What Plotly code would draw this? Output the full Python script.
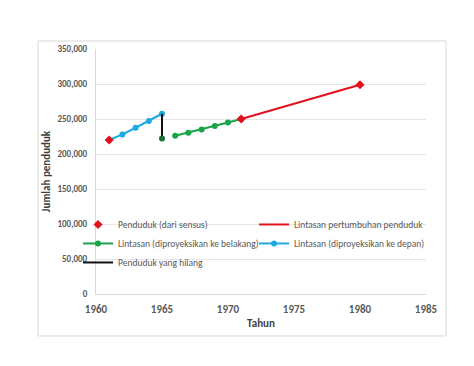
import plotly.graph_objects as go

# Data
census_years = [1961, 1971, 1980]
census_pop = [220000, 250000, 299000]

growth_years = [1971, 1980]
growth_pop = [250000, 299000]

back_years = [1966, 1967, 1968, 1969, 1970, 1971]
back_pop = [226000, 230500, 235000, 240000, 245000, 250000]

fwd_years = [1961, 1962, 1963, 1964, 1965]
fwd_pop = [220000, 228000, 237500, 247000, 257500]

missing_years = [1965, 1965]
missing_pop = [257500, 222000]

y_ticks = [0, 50000, 100000, 150000, 200000, 250000, 300000, 350000]
x_ticks = [1960, 1965, 1970, 1975, 1980, 1985]

FONT = "Carlito, Liberation Sans Narrow, Roboto, sans-serif"
RED = "#E3101E"
GREEN = "#1BA34A"
BLUE = "#1EA9E1"

fig = go.Figure()

fig.add_trace(go.Scatter(x=growth_years, y=growth_pop, mode="lines",
                         line=dict(color=RED, width=2),
                         name="Lintasan pertumbuhan penduduk", legend="legend2", legendrank=1))
fig.add_trace(go.Scatter(x=back_years, y=back_pop, mode="lines+markers",
                         line=dict(color=GREEN, width=2),
                         marker=dict(color=GREEN, size=6),
                         name="Lintasan (diproyeksikan ke belakang)", legend="legend", legendrank=2))
fig.add_trace(go.Scatter(x=fwd_years, y=fwd_pop, mode="lines+markers",
                         line=dict(color=BLUE, width=2),
                         marker=dict(color=BLUE, size=6),
                         name="Lintasan (diproyeksikan ke depan)", legend="legend2", legendrank=2))
fig.add_trace(go.Scatter(x=missing_years, y=missing_pop, mode="lines+markers",
                         line=dict(color="#111111", width=2),
                         marker=dict(color=["rgba(0,0,0,0)", "#1E6B3C"], size=6),
                         name="Penduduk yang hilang", legend="legend", legendrank=3))
fig.add_trace(go.Scatter(x=census_years, y=census_pop, mode="markers",
                         marker=dict(color=RED, size=7, symbol="diamond"),
                         name="Penduduk (dari sensus)", legend="legend", legendrank=1))

legend_common = dict(orientation="v", yanchor="top", xanchor="left", itemwidth=30,
                     bgcolor="rgba(0,0,0,0)", font=dict(size=9.5, color="#595959"),
                     tracegroupgap=0)

fig.update_layout(
    width=474, height=366,
    margin=dict(l=88, r=56, t=41, b=80),
    paper_bgcolor="white", plot_bgcolor="white",
    font=dict(family=FONT, color="#595959", size=10),
    showlegend=True,
    legend=dict(x=-0.0545, y=0.343, **legend_common),
    legend2=dict(x=0.479, y=0.343, **legend_common),
    xaxis=dict(range=[1960, 1985], tickvals=x_ticks, showgrid=False,
               showline=True, linecolor="#D9D9D9", linewidth=1, zeroline=False,
               ticks="", ticklabelstandoff=5,
               tickfont=dict(size=11, color="#595959", family=FONT, weight="bold"),
               title=dict(text="<b>Tahun</b>", font=dict(size=11, color="#404040"), standoff=4)),
    yaxis=dict(range=[0, 350000], tickvals=y_ticks, tickformat=",",
               showgrid=True, gridcolor="#E6E6E6", gridwidth=1,
               showline=True, linecolor="#D9D9D9", zeroline=False, ticks="",
               ticklabelstandoff=6,
               tickfont=dict(size=9, color="#595959", family=FONT, weight="bold"),
               title=dict(text="<b>Jumlah penduduk</b>", font=dict(size=11, color="#404040"), standoff=4)),
    shapes=[dict(type="rect", xref="paper", yref="paper",
                 x0=-0.1758, x1=1.0606, y0=-0.1714, y1=1.0327,
                 line=dict(color="#D9D9D9", width=1), fillcolor="rgba(0,0,0,0)", layer="below")],
)

fig.write_html("out.html")
